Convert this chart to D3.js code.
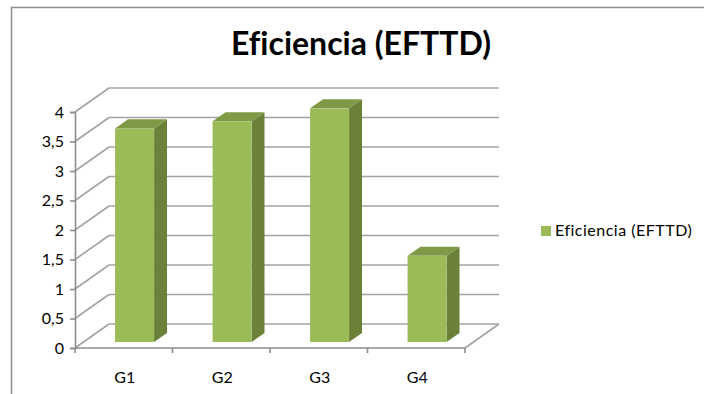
<!DOCTYPE html>
<html>
<head>
<meta charset="utf-8">
<script src="https://cdn.jsdelivr.net/npm/d3@7"></script>
<style>
  html, body { margin: 0; padding: 0; background: #ffffff; }
  svg { display: block; }
  text { font-family: Lato, "Noto Sans", sans-serif; fill: #000; font-variant-ligatures: none; }
</style>
</head>
<body>
<script>
// Chart data
const categories = ["G1", "G2", "G3", "G4"];
const values = [3.62, 3.74, 3.96, 1.46];
const seriesName = "Eficiencia (EFTTD)";
const yTicks = [0, 0.5, 1, 1.5, 2, 2.5, 3, 3.5, 4];

const W = 704, H = 394;
const svg = d3.select("body").append("svg").attr("width", W).attr("height", H);

// Chart area frame
svg.append("rect")
  .attr("x", 11.5).attr("y", 7.5)
  .attr("width", W + 20).attr("height", H + 20)
  .attr("fill", "#fff").attr("stroke", "#8c8c8c").attr("stroke-width", 1.5);

// Title
svg.append("text")
  .attr("x", 361).attr("y", 55)
  .attr("text-anchor", "middle")
  .attr("font-size", 32).attr("font-weight", "bold")
  .text(seriesName);

// 3D projection: front plane scales plus a depth offset
const x0 = 75, x1 = 465;
const depthX = 34, depthY = -24;
const y = d3.scaleLinear().domain([0, 4]).range([348, 112]);
const x = d3.scaleBand().domain(categories).range([x0, x1])
  .paddingInner(0.6).paddingOuter(0.3).align(0.54);
const step = x.step();

const grid = svg.append("g").attr("stroke", "#a3a3a3").attr("stroke-width", 1.6).attr("fill", "none");

// Back wall gridlines and side wall diagonals
yTicks.forEach(t => {
  const fy = y(t);
  grid.append("line")
    .attr("x1", x0 + depthX).attr("y1", fy + depthY)
    .attr("x2", x1 + depthX).attr("y2", fy + depthY);
  grid.append("line")
    .attr("x1", x0).attr("y1", fy)
    .attr("x2", x0 + depthX).attr("y2", fy + depthY);
});
// Floor right edge
grid.append("line")
  .attr("x1", x1).attr("y1", y(0))
  .attr("x2", x1 + depthX).attr("y2", y(0) + depthY);

// Value axis
const fmt = d3.formatLocale({ decimal: ",", thousands: ".", grouping: [3], currency: ["", ""] }).format("~g");
const yAxis = d3.axisLeft(y).tickValues(yTicks).tickFormat(fmt).tickSize(5).tickPadding(6);
const gy = svg.append("g").attr("transform", `translate(${x0},0)`).call(yAxis);
gy.select(".domain").attr("stroke", "#8c8c8c").attr("stroke-width", 1.6);
gy.selectAll(".tick line").attr("stroke", "#8c8c8c").attr("stroke-width", 1.6);
gy.selectAll(".tick text").attr("font-size", 16).attr("font-family", "Lato, sans-serif").attr("fill", "#000");

// Category axis along the front floor edge
const gx = svg.append("g").attr("transform", `translate(0,${y(0)})`);
gx.append("line").attr("x1", x0).attr("x2", x1).attr("y1", 0).attr("y2", 0)
  .attr("stroke", "#8c8c8c").attr("stroke-width", 1.6);
d3.range(categories.length + 1).forEach(i => {
  gx.append("line").attr("x1", x0 + i * step).attr("x2", x0 + i * step)
    .attr("y1", 0).attr("y2", 5).attr("stroke", "#8c8c8c").attr("stroke-width", 1.6);
});
gx.selectAll("text.cat").data(categories).join("text")
  .attr("class", "cat")
  .attr("x", d => x0 + categories.indexOf(d) * step + step / 2 + 1)
  .attr("y", 35)
  .attr("text-anchor", "middle")
  .attr("font-size", 16)
  .text(d => d);

// Bars as boxes: front face, side and top
const barShift = 0.25;           // position of the bar's front face inside the depth
const barDepth = 0.38;           // fraction of the floor depth occupied by the bar
const fx = barShift * depthX, fyOff = barShift * depthY;
const bdx = barDepth * depthX, bdy = barDepth * depthY;

const bars = svg.append("g").selectAll("g").data(categories.map((c, i) => ({ c, v: values[i] }))).join("g");
bars.each(function(d) {
  const g = d3.select(this);
  const left = x(d.c) + fx;
  const right = left + x.bandwidth();
  const top = y(d.v) + fyOff;
  const bottom = y(0) + fyOff;
  // side
  g.append("path")
    .attr("d", `M${right},${top} L${right + bdx},${top + bdy} L${right + bdx},${bottom + bdy} L${right},${bottom} Z`)
    .attr("fill", "#6b8139");
  // top
  g.append("path")
    .attr("d", `M${left},${top} L${left + bdx},${top + bdy} L${right + bdx},${top + bdy} L${right},${top} Z`)
    .attr("fill", "#7f9a47");
  // front
  g.append("rect")
    .attr("x", left).attr("y", top)
    .attr("width", right - left).attr("height", bottom - top)
    .attr("fill", "#9bbb59");
});

// Legend
const lg = svg.append("g").attr("transform", "translate(541,226)");
lg.append("rect").attr("width", 10).attr("height", 10).attr("fill", "#9bbb59");
lg.append("text").attr("x", 14).attr("y", 10).attr("font-size", 16)
  .attr("letter-spacing", 0.5).text(seriesName);
</script>
</body>
</html>
